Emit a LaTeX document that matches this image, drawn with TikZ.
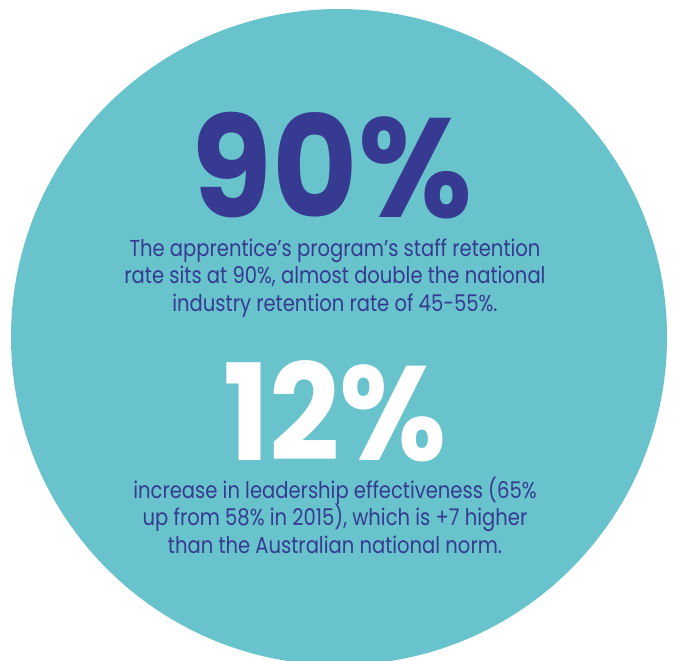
\documentclass[tikz,border=0pt]{standalone}
\usepackage{fontspec}
\setmainfont{Poppins}
\newfontfamily\blurbfont{Poppins}[FakeStretch=0.85]
\newfontfamily\ninetyfont{Poppins}[FakeStretch=0.93]
\newfontfamily\twelvefont{Poppins}[FakeStretch=0.92]
\definecolor{circlecyan}{RGB}{104,195,205}
\definecolor{statnavy}{RGB}{54,58,145}
\begin{document}
\begin{tikzpicture}[x=1pt,y=-1pt,
  bignum/.style={anchor=base,inner sep=0pt},
  blurb/.style={anchor=base,inner sep=0pt,align=center,text=statnavy,
    font=\blurbfont\fontsize{23}{27.5}\selectfont}]
\useasboundingbox (0,0) rectangle (675,661);
% background disc
\fill[circlecyan] (339,337) circle (328pt);

% first figure
\node[bignum,text=statnavy,font=\ninetyfont\fontsize{141}{141}\selectfont\bfseries]
  (ninety) at (332,217) {90\%};
\node[blurb] (retention) at (335,311) {The apprentice’s program’s staff retention\\
  rate sits at 90\%, almost double the national\\
  industry retention rate of 45-55\%.};

% second figure
\node[bignum,text=white,font=\twelvefont\fontsize{134}{134}\selectfont\bfseries]
  (twelve) at (335,460) {12\%};
\node[blurb] (leadership) at (335,553) {increase in leadership effectiveness (65\%\\
  up from 58\% in 2015), which is +7 higher\\
  than the Australian national norm.};
\end{tikzpicture}
\end{document}
